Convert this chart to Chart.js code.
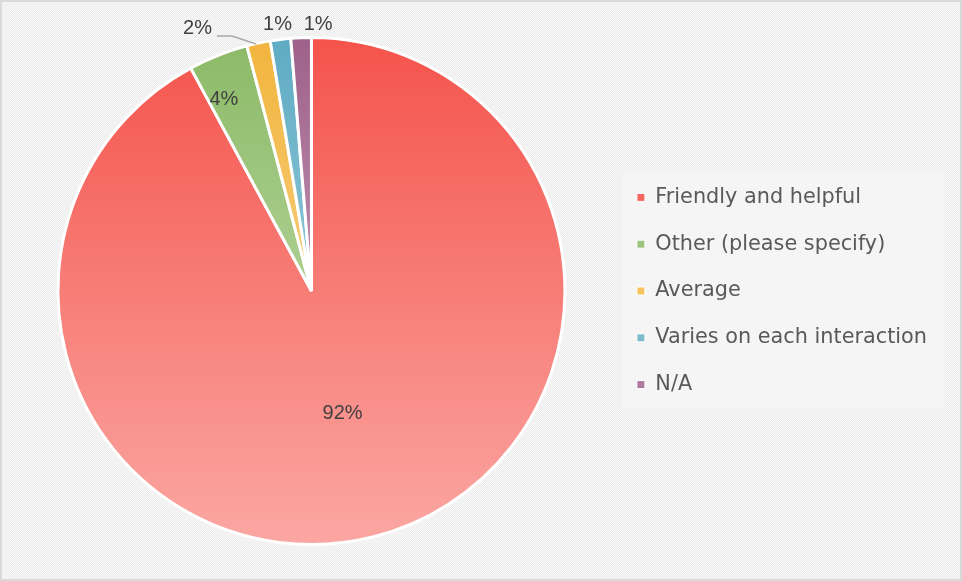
<!DOCTYPE html>
<html>
<head>
<meta charset="utf-8">
<script src="https://cdn.jsdelivr.net/npm/chart.js@4.4.1/dist/chart.umd.min.js"></script>
<style>
  html, body { margin: 0; padding: 0; background: #ffffff; }
  #wrap { width: 962px; height: 581px; position: relative; }
</style>
</head>
<body>
<div id="wrap"><canvas id="c" width="962" height="581"></canvas></div>
<script>
// Survey answers and their shares (percent)
const categories = ['Friendly and helpful', 'Other (please specify)', 'Average', 'Varies on each interaction', 'N/A'];
const shares = [92.1, 3.8, 1.5, 1.3, 1.3];

// Top / bottom colours of each slice's vertical gradient
const topColors = ['#F4534B', '#8BBA66', '#F2B43C', '#5EABC3', '#9E6189'];
const bottomColors = ['#FBA7A3', '#CFE4BD', '#FBE3B4', '#BFE0EA', '#DDB9D1'];
const swatchColors = ['#F46660', '#9CC47C', '#F5C460', '#7EBCCD', '#B07A9E'];

// Data label placement: inside labels use a fraction of the radius
// (with an optional turn in degrees), outside labels are offset from
// the slice's outer edge midpoint.
const labelPlacement = [
  { inside: 0.5, turn: 0 },
  { inside: 0.83, turn: -3 },
  { dx: -61, dy: -15, leader: true },
  { dx: -3, dy: -15 },
  { dx: 17, dy: -13 }
];

function makePattern(ctx) {
  const p = document.createElement('canvas');
  p.width = 4; p.height = 4;
  const g = p.getContext('2d');
  g.fillStyle = '#f8f8f8';
  g.fillRect(0, 0, 4, 4);
  g.fillStyle = '#ececec';
  for (let i = 0; i < 4; i++) {
    g.fillRect(i, (3 - i), 1, 1);
    g.fillRect(i, (3 - i + 2) % 4, 1, 1);
  }
  return ctx.createPattern(p, 'repeat');
}

const backgroundPlugin = {
  id: 'panelBackground',
  beforeDraw(chart) {
    const ctx = chart.ctx;
    ctx.save();
    ctx.fillStyle = makePattern(ctx);
    ctx.fillRect(0, 0, chart.width, chart.height);
    ctx.strokeStyle = '#d9d9d9';
    ctx.lineWidth = 2;
    ctx.strokeRect(1, 1, chart.width - 2, chart.height - 2);
    // legend panel
    const boxes = chart.legend && chart.legend.legendHitBoxes;
    if (boxes && boxes.length) {
      const first = boxes[0], last = boxes[boxes.length - 1];
      let right = 0;
      boxes.forEach(b => { right = Math.max(right, b.left + b.width); });
      const x0 = first.left - 14, y0 = first.top - 15;
      const x1 = right + 16, y1 = last.top + last.height + 14;
      ctx.fillStyle = '#f5f5f5';
      ctx.fillRect(x0, y0, x1 - x0, y1 - y0);
    }
    ctx.restore();
  }
};

const labelPlugin = {
  id: 'sliceLabels',
  afterDatasetsDraw(chart) {
    const ctx = chart.ctx;
    const arcs = chart.getDatasetMeta(0).data;
    ctx.save();
    ctx.font = '20px "Liberation Sans", Arial, sans-serif';
    ctx.fillStyle = '#404040';
    ctx.textAlign = 'center';
    ctx.textBaseline = 'middle';
    arcs.forEach((arc, i) => {
      const { x, y, startAngle, endAngle, outerRadius } = arc.getProps(['x', 'y', 'startAngle', 'endAngle', 'outerRadius'], true);
      const mid = (startAngle + endAngle) / 2;
      const place = labelPlacement[i];
      const text = Math.round(shares[i]) + '%';
      let lx, ly;
      if (place.inside !== undefined) {
        const a = mid + (place.turn || 0) * Math.PI / 180;
        lx = x + Math.cos(a) * outerRadius * place.inside;
        ly = y + Math.sin(a) * outerRadius * place.inside;
      } else {
        const ex = x + Math.cos(mid) * outerRadius;
        const ey = y + Math.sin(mid) * outerRadius;
        lx = ex + place.dx;
        ly = ey + place.dy;
        if (place.leader) {
          const tw = ctx.measureText(text).width;
          ctx.strokeStyle = '#a6a6a6';
          ctx.lineWidth = 1.5;
          ctx.beginPath();
          ctx.moveTo(lx + tw / 2 + 5, ly + 8);
          ctx.lineTo(lx + tw / 2 + 20, ly + 8);
          ctx.lineTo(ex - 2, ey + 1);
          ctx.stroke();
        }
      }
      ctx.fillText(text, lx, ly);
    });
    ctx.restore();
  }
};

function sliceGradient(context) {
  const chart = context.chart;
  const area = chart.chartArea;
  if (!area) return topColors[context.dataIndex];
  const meta = chart.getDatasetMeta(0);
  const arc = meta.data[context.dataIndex];
  let cy = (area.top + area.bottom) / 2;
  let r = Math.min(area.right - area.left, area.bottom - area.top) / 2;
  if (arc && arc.outerRadius) { cy = arc.y; r = arc.outerRadius; }
  const g = chart.ctx.createLinearGradient(0, cy - r, 0, cy + r);
  g.addColorStop(0, topColors[context.dataIndex]);
  g.addColorStop(1, bottomColors[context.dataIndex]);
  return g;
}

new Chart(document.getElementById('c'), {
  type: 'pie',
  data: {
    labels: categories,
    datasets: [{
      data: shares,
      backgroundColor: sliceGradient,
      borderColor: '#ffffff',
      borderWidth: 3
    }]
  },
  options: {
    responsive: false,
    animation: false,
    layout: { padding: { top: 36, bottom: 35, left: 12, right: 25 } },
    plugins: {
      tooltip: { enabled: false },
      legend: {
        position: 'right',
        align: 'center',
        labels: {
          boxWidth: 8,
          boxHeight: 8,
          padding: 26,
          color: '#595959',
          font: { family: '"DejaVu Sans", sans-serif', size: 20.8 },
          generateLabels(chart) {
            return categories.map((name, i) => ({
              text: name,
              fillStyle: swatchColors[i],
              strokeStyle: '#ffffff',
              lineWidth: 1,
              fontColor: '#595959',
              hidden: false,
              index: i
            }));
          }
        }
      }
    }
  },
  plugins: [backgroundPlugin, labelPlugin]
});
</script>
</body>
</html>
